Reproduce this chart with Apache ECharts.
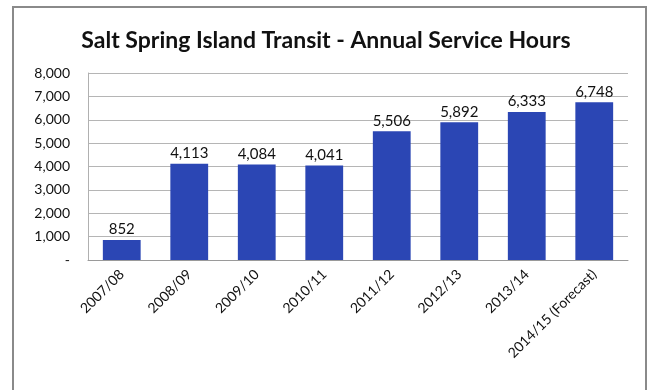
<!DOCTYPE html>
<html><head><meta charset="utf-8">
<script src="https://cdn.jsdelivr.net/npm/echarts@6/dist/echarts.min.js"></script>
<style>
html,body{margin:0;padding:0;background:#fff;}
#frame{position:absolute;left:12px;top:6px;width:635px;height:400px;border:2px solid #8a8a8a;box-sizing:border-box;}
#chart{position:absolute;left:0;top:0;width:652px;height:390px;}
</style></head>
<body>
<div id="frame"></div>
<div id="chart"></div>
<script>
const categories = ["2007/08","2008/09","2009/10","2010/11","2011/12","2012/13","2013/14","2014/15 (Forecast)"];
const serviceHours = [852, 4113, 4084, 4041, 5506, 5892, 6333, 6748];
const yTicks = [0, 1000, 2000, 3000, 4000, 5000, 6000, 7000, 8000];

const fmt = v => v === 0 ? '-' : v.toLocaleString('en-US');
const chart = echarts.init(document.getElementById('chart'), null, {renderer:'canvas'});
chart.setOption({
  animation:false,
  backgroundColor:'transparent',
  title:{
    text:'Salt Spring Island Transit - Annual Service Hours',
    left:'center', top:24,
    textStyle:{fontFamily:'Lato', fontWeight:'bold', fontSize:23, color:'#111'}
  },
  grid:{left:88, right:24, top:73, bottom:130, containLabel:false},
  xAxis:{
    type:'category', data:categories,
    axisLine:{lineStyle:{color:'#9a9a9a', width:1}},
    axisTick:{show:false},
    axisLabel:{rotate:45, interval:0, fontFamily:'Lato', fontSize:14, color:'#111', margin:12}
  },
  yAxis:{
    type:'value', min:yTicks[0], max:yTicks[yTicks.length-1], interval:1000,
    axisLine:{show:true, lineStyle:{color:'#b0b0b0'}},
    axisTick:{show:false},
    splitLine:{lineStyle:{color:'#b5b5b5', width:1}},
    axisLabel:{fontFamily:'Lato', fontSize:14, color:'#111', margin:18, formatter:fmt}
  },
  series:[{
    type:'bar', data:serviceHours, barWidth:'56%',
    itemStyle:{color:'#2b46b4'},
    label:{show:true, position:'top', distance:3, fontFamily:'Lato', fontSize:15, color:'#111',
      formatter:p=>p.value.toLocaleString('en-US')}
  }]
});
</script>
</body></html>
